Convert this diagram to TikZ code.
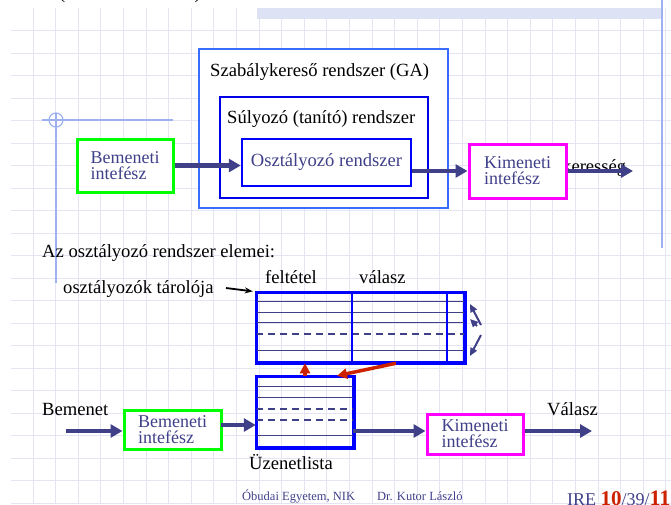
\documentclass[tikz,border=0pt]{standalone}
\usepackage{fontspec}
\setmainfont{Liberation Serif}
\usetikzlibrary{arrows.meta}
\definecolor{gridc}{HTML}{E4E4F2}
\definecolor{bandc}{HTML}{DDE3F5}
\definecolor{decoc}{HTML}{9FB0F0}
\definecolor{gablue}{HTML}{3A6BFF}
\definecolor{sulblue}{HTML}{0000E6}
\definecolor{pblue}{HTML}{0000FF}
\definecolor{pgreen}{HTML}{00FF00}
\definecolor{pmag}{HTML}{FF00FF}
\definecolor{arrowc}{HTML}{404088}
\definecolor{redc}{HTML}{CC2200}
\definecolor{txtc}{HTML}{40408A}
\tikzset{
  gridline/.style={draw=gridc, line width=0.9pt},
  lbl/.style={inner sep=0pt, font=\fontsize{18.6}{20}\selectfont, text=black},
  boxfont/.style={font=\fontsize{18}{16}\selectfont},
  ifbox/.style={draw, line width=3pt, fill=white, text=txtc, align=left, inner sep=0pt, boxfont},
  gabox/.style={draw=gablue, line width=2.2pt, fill=white, inner sep=0pt},
  sulbox/.style={draw=sulblue, line width=2.5pt, fill=white, inner sep=0pt},
  oszbox/.style={draw=pblue, line width=2.5pt, fill=white, inner sep=0pt, text=txtc, font=\fontsize{18.6}{20}\selectfont},
  tabbox/.style={draw=pblue, line width=2.5pt, inner sep=0pt},
  rowline/.style={draw=arrowc, line width=1.4pt},
  dashrow/.style={draw=arrowc, line width=2.5pt, dash pattern=on 7pt off 5pt},
  colline/.style={draw=pblue, line width=2.5pt},
  bigarrow/.style={draw=arrowc, line width=4.5pt, -{Triangle[length=12pt,width=13pt]}},
  redarrow/.style={draw=redc, line width=3.5pt, -{Triangle[length=10pt,width=10pt]}},
  smallarrow/.style={draw=arrowc, line width=2pt, -{Triangle[length=8pt,width=7pt]}},
  blkarrow/.style={draw=black, line width=1.8pt, -{Stealth[length=8pt,width=6pt,open]}},
  foot/.style={inner sep=0pt, font=\fontsize{12.5}{14}\selectfont, text=txtc},
}
\begin{document}
\begin{tikzpicture}[x=1pt,y=-1pt]
\useasboundingbox (0,0) rectangle (671,504);
% grid
\foreach \i in {0,...,21} \draw[gridline] (11,{30.5+22.5*\i}) -- (671,{30.5+22.5*\i});
\foreach \i in {0,...,28} \draw[gridline] ({33+22.6*\i},8) -- ({33+22.6*\i},504);
% slide decorations
\fill[bandc] (257,8) rectangle (661,19);
\draw[decoc, line width=1.5pt] (662,0) -- (662,248);
\draw[decoc, line width=1.2pt] (42,120) -- (173,120);
\draw[decoc, line width=1.2pt] (56,113) -- (56,283);
\draw[decoc, line width=1.2pt] (56,120) circle[radius=7pt];
\node[lbl, font=\fontsize{20}{20}\selectfont] (lp) at (62,-6) {(};
\node[lbl, font=\fontsize{20}{20}\selectfont] (rp) at (198,-6) {)};
% upper diagram
\node[gabox, minimum width=249pt, minimum height=159pt] (ga) at (323.5,128.5) {};
\node[lbl, anchor=base west] (gat) at (210,76) {Szabálykereső rendszer (GA)};
\node[sulbox, minimum width=208pt, minimum height=101pt] (sul) at (324,147.5) {};
\node[lbl, anchor=base west] (sult) at (227,123) {Súlyozó (tanító) rendszer};
\node[oszbox, minimum width=169pt, minimum height=47pt] (osz) at (326.5,162.5) {Osztályozó rendszer};
\node[ifbox, draw=pgreen, minimum width=96pt, minimum height=53pt] (bemA) at (125,165.5) {Bemeneti\\intefész};
\node[lbl, anchor=base west] (ker) at (562,172) {keresség};
\node[ifbox, draw=pmag, minimum width=97pt, minimum height=54pt] (kimA) at (517.5,171) {Kimeneti\\intefész};
\coordinate (outA) at (633,171);
\draw[bigarrow] (bemA.east) -- (bemA.east -| osz.west);
\draw[bigarrow] (kimA.west -| osz.east) -- (kimA.west);
\draw[bigarrow] (kimA.east) -- (outA);
% lower diagram
\node[lbl, anchor=base west] (elemei) at (42,257) {Az osztályozó rendszer elemei:};
\node[lbl, anchor=base west] (felt) at (265,283) {feltétel};
\node[lbl, anchor=base west] (val) at (359,283) {válasz};
\node[lbl, anchor=base west] (tar) at (63,293) {osztályozók tárolója};
\node[tabbox, minimum width=207pt, minimum height=69pt] (store) at (360.5,327.5) {};
\foreach \d in {10,21,31,59} \draw[rowline] ([yshift=-\d pt]store.north west) -- ([yshift=-\d pt]store.north east);
\draw[dashrow] ([yshift=-42pt]store.north west) -- ([yshift=-42pt]store.north east);
\draw[colline] ([xshift=96pt]store.north west) -- ([xshift=96pt]store.south west);
\draw[colline] ([xshift=191pt]store.north west) -- ([xshift=191pt]store.south west);
\draw[draw=pblue, line width=2.5pt] (store.north west) rectangle (store.south east);
\coordinate (t0) at (226,288);
\draw[blkarrow, shorten >=3pt] (t0) -- (store.north west);
% arrows right of the store
\coordinate (ra) at (481,325);
\coordinate (rb) at (470,304);
\coordinate (rc) at (477,326);
\coordinate (rd) at (470,319);
\coordinate (re) at (481,335);
\coordinate (rf) at (470,356);
\draw[smallarrow] (ra) -- (rb);
\draw[smallarrow] (rc) -- (rd);
\draw[smallarrow] (re) -- (rf);
% message list
\node[tabbox, minimum width=96pt, minimum height=70pt] (msg) at (305,412) {};
\foreach \d in {11,22,60} \draw[rowline] ([yshift=-\d pt]msg.north west) -- ([yshift=-\d pt]msg.north east);
\foreach \d in {33,44} \draw[dashrow] ([yshift=-\d pt]msg.north west) -- ([yshift=-\d pt]msg.north east);
\draw[draw=pblue, line width=2.5pt] (msg.north west) rectangle (msg.south east);
\node[lbl, anchor=base west] (uz) at (249,469) {Üzenetlista};
\draw[redarrow] (msg.north) -- (msg.north |- store.south);
\draw[redarrow] ([xshift=35.5pt]store.south) -- ([xshift=32pt]msg.north);
% interfaces
\node[lbl, anchor=base west] (bem) at (42,415) {Bemenet};
\node[ifbox, draw=pgreen, minimum width=97pt, minimum height=39pt] (bemB) at (172.5,429.5) {Bemeneti\\intefész};
\node[ifbox, draw=pmag, minimum width=96pt, minimum height=40pt] (kimB) at (475,434) {Kimeneti\\intefész};
\node[lbl, anchor=base west] (valasz) at (547,415) {Válasz};
\coordinate (inB) at (66,431);
\draw[bigarrow] (inB) -- (inB -| bemB.west);
\coordinate (bin) at (221,425);
\draw[bigarrow] (bin) -- (bin -| msg.west);
\coordinate (mout) at (353,431);
\draw[bigarrow] (mout) -- (mout -| kimB.west);
\coordinate (outB) at (592,431);
\draw[bigarrow] (outB -| kimB.east) -- (outB);
% footer
\node[foot, anchor=base west] (f1) at (242,500) {Óbudai Egyetem, NIK};
\node[foot, anchor=base west] (f2) at (377,500) {Dr. Kutor László};
\node[inner sep=0pt, anchor=base west, text=txtc, font=\fontsize{18}{20}\selectfont] (ire) at (567,505) {IRE {\color{redc}\fontsize{21}{22}\selectfont\bfseries 10}/39/{\color{redc}\fontsize{22}{22}\selectfont\bfseries 11}};
\end{tikzpicture}
\end{document}
